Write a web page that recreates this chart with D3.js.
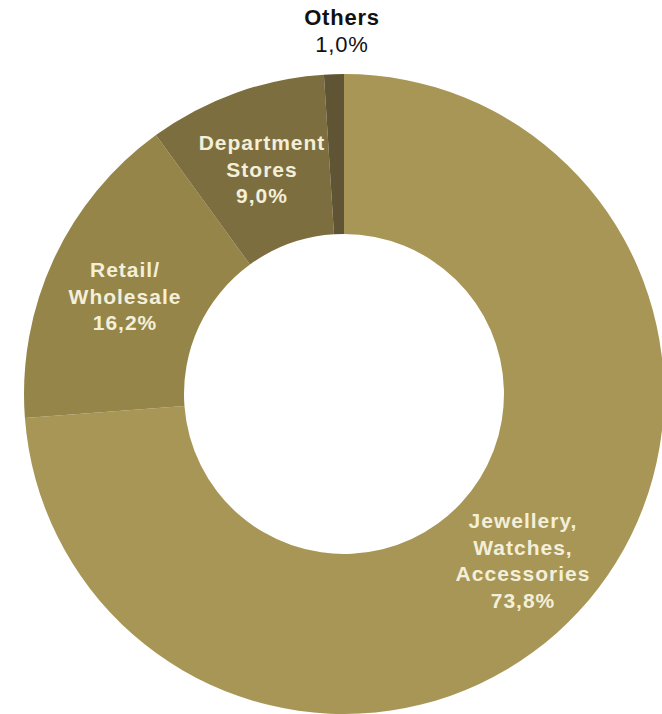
<!DOCTYPE html>
<html>
<head>
<meta charset="utf-8">
<script src="https://cdn.jsdelivr.net/npm/d3@7"></script>
<style>
  html, body { margin: 0; padding: 0; background: #ffffff; }
  svg { display: block; }
</style>
</head>
<body>
<svg id="chart" width="662" height="714"></svg>
<script>
// Sales share by segment (%)
const segments = ["Jewellery, Watches, Accessories", "Retail/ Wholesale", "Department Stores", "Others"];
const shares = [73.8, 16.2, 9.0, 1.0];
const labelLines = [
  ["Jewellery,", "Watches,", "Accessories"],
  ["Retail/", "Wholesale"],
  ["Department", "Stores"],
  ["Others"]
];
const valueLabels = ["73,8%", "16,2%", "9,0%", "1,0%"];
const colors = ["#a89656", "#958548", "#7d6e3f", "#5f5433"];

const svg = d3.select("#chart");
const cx = 344, cy = 394;
const outerR = 320, innerR = 160;

const data = segments.map((name, i) => ({ name, value: shares[i], lines: labelLines[i], valueLabel: valueLabels[i], color: colors[i] }));

const pie = d3.pie().value(d => d.value).sort(null);
const arcs = pie(data);
const arc = d3.arc().innerRadius(innerR).outerRadius(outerR);

const g = svg.append("g").attr("transform", `translate(${cx},${cy})`);

g.selectAll("path.slice")
  .data(arcs)
  .join("path")
  .attr("class", "slice")
  .attr("d", arc)
  .attr("fill", d => d.data.color);

// Label anchor points (centre of text block, relative to ring centre), by segment
const labelPos = {
  "Jewellery, Watches, Accessories": { x: 523 - cx, top: 528 - cy },
  "Retail/ Wholesale": { x: 125 - cx, top: 277 - cy },
  "Department Stores": { x: 262 - cx, top: 150 - cy },
  "Others": { x: 342 - cx, top: 25 - cy }
};
const lineH = 26.5;

arcs.forEach(a => {
  const d = a.data;
  const p = labelPos[d.name];
  const outside = d.name === "Others";
  const t = g.append("text")
    .attr("text-anchor", "middle")
    .attr("font-family", "'Liberation Sans', Arial, sans-serif")
    .attr("font-size", outside ? 22 : 21)
    .attr("letter-spacing", outside ? 0.8 : 1)
    .attr("fill", outside ? "#111111" : "#f3efd9");
  const lines = d.lines.concat([d.valueLabel]);
  lines.forEach((ln, i) => {
    t.append("tspan")
      .attr("x", p.x)
      .attr("y", p.top + i * lineH)
      .attr("font-weight", outside && i > 0 ? "normal" : "bold")
      .text(ln);
  });
});
</script>
</body>
</html>
